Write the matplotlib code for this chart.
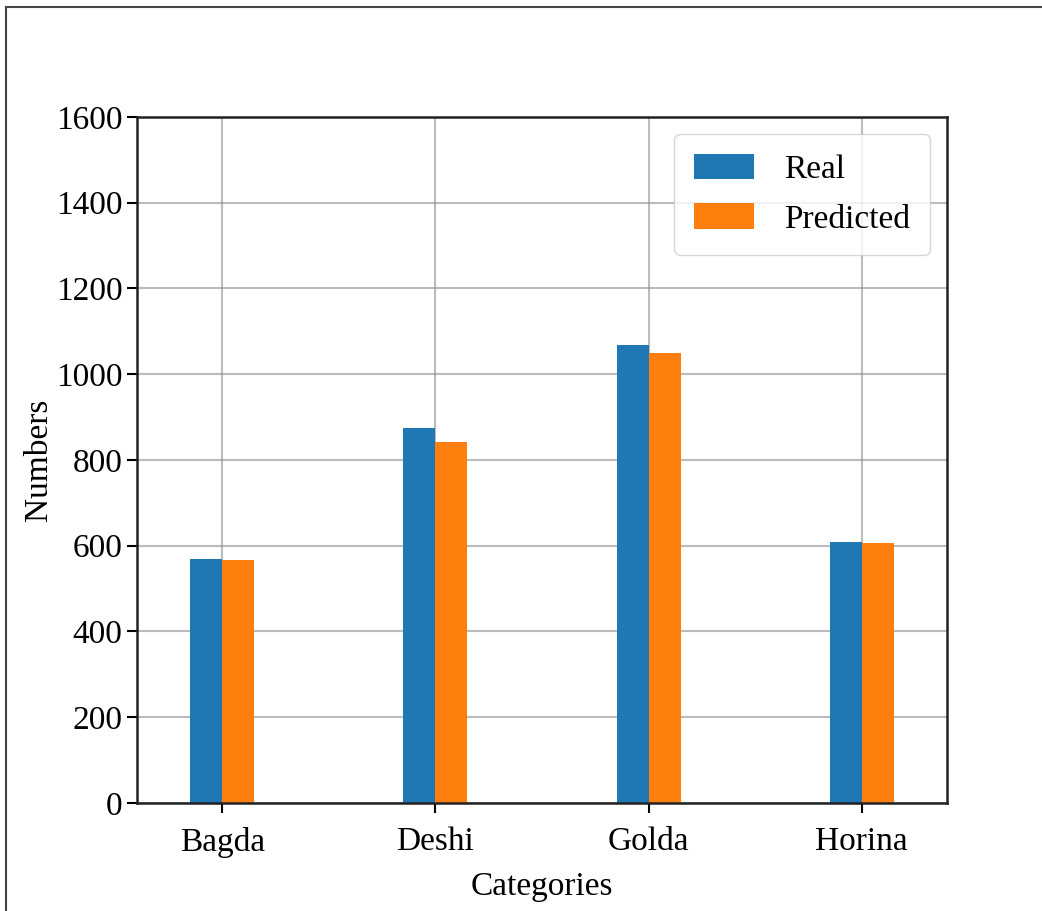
import numpy as np
import matplotlib
matplotlib.use('Agg')
import matplotlib.pyplot as plt
from matplotlib.patches import Rectangle

plt.rcParams['font.family'] = ['Liberation Serif', 'DejaVu Serif']

categories = ['Bagda', 'Deshi', 'Golda', 'Horina']
real = [568, 874, 1068, 609]
predicted = [566, 841, 1049, 606]

x = np.arange(len(categories))
w = 0.15
fs = 24

fig = plt.figure(figsize=(10.42, 9.11), dpi=100)
ax = fig.add_axes([0.1315, 0.1186, 0.7773, 0.753])

ax.bar(x - w / 2, real, w, color='#1f77b4', label='Real', zorder=2)
ax.bar(x + w / 2, predicted, w, color='#ff7f0e', label='Predicted', zorder=2)

ax.set_xlim(-0.4, 3.4)
ax.set_ylim(0, 1600)
ax.set_xticks(x)
ax.set_xticklabels(categories)
ax.set_yticks(np.arange(0, 1601, 200))
ax.grid(True, color='#909090', linewidth=1.5, alpha=0.6, zorder=3)

ax.tick_params(labelsize=fs, length=7, width=1.5)
ax.tick_params(axis='x', pad=10)
for s in ax.spines.values():
    s.set_linewidth(1.8)
    s.set_color('#222222')

ax.set_xlabel('Categories', fontsize=fs, labelpad=10)
ax.set_ylabel('Numbers', fontsize=fs)
ax.yaxis.set_label_coords(-0.103, 0.5)
ax.legend(loc='upper right', fontsize=fs, handlelength=1.8, handleheight=0.8,
          borderpad=0.6, labelspacing=0.55, handletextpad=0.9,
          borderaxespad=0.5, framealpha=0.8)

# thin frame around the figure
fig.patches.append(Rectangle((6 / 1042, -0.1), 1.1, (911 - 7) / 911 + 0.1,
                             transform=fig.transFigure, fill=False,
                             edgecolor='#444444', linewidth=1.5))

fig.savefig('out.png', dpi=100)
